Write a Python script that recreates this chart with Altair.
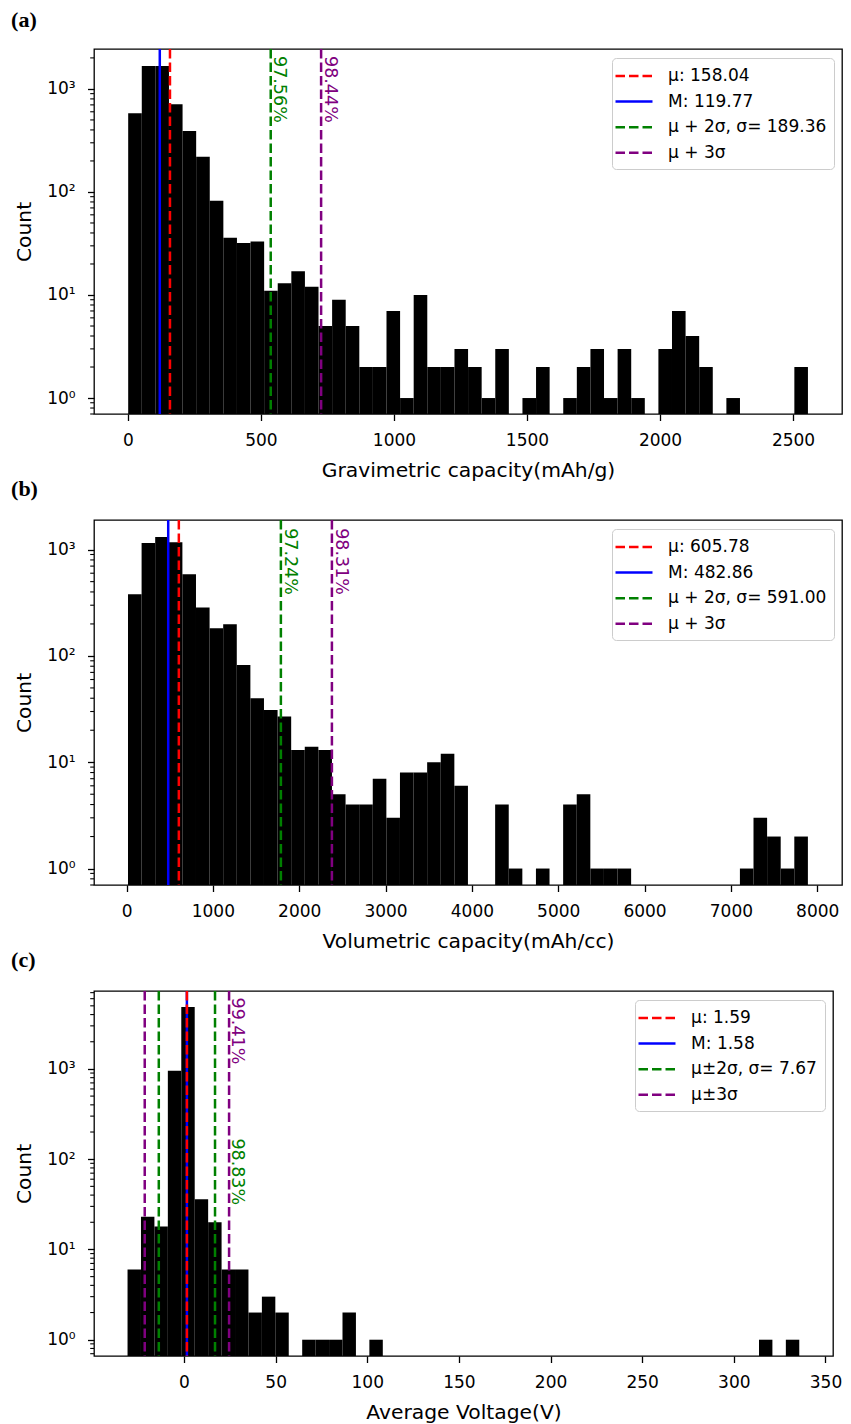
import altair as alt
import pandas as pd

FONT = "DejaVu Sans"
PANEL_FONT = "Liberation Serif"

# ---------------- (a) Gravimetric capacity ----------------
grav_counts = [580, 1670, 1670, 710, 391, 220, 82, 36, 32, 33,
               11, 13, 17, 12, 5, 9, 5, 2, 2, 7,
               1, 10, 2, 2, 3, 2, 1, 3, 0, 1,
               2, 0, 1, 2, 3, 1, 3, 1, 0, 3,
               7, 4, 2, 0, 1, 0, 0, 0, 0, 2]
grav_bin_start = 1.0
grav_bin_width = 51.1
grav_mean = 158.04
grav_median = 119.77
grav_sigma = 189.36
grav_pct = ["97.56%", "98.44%"]
grav_xticks = [0, 500, 1000, 1500, 2000, 2500]

# ---------------- (b) Volumetric capacity ----------------
vol_counts = [380, 1156, 1315, 1172, 586, 285, 182, 199, 82, 40,
              31, 27, 13, 14, 13, 5, 4, 4, 7, 3,
              8, 8, 10, 12, 6, 0, 0, 4, 1, 0,
              1, 0, 4, 5, 1, 1, 1, 0, 0, 0,
              0, 0, 0, 0, 0, 1, 3, 2, 1, 2]
vol_bin_start = 17.0
vol_bin_width = 157.5
vol_mean = 605.78
vol_median = 482.86
vol_sigma = 591.00
vol_pct = ["97.24%", "98.31%"]
vol_xticks = [0, 1000, 2000, 3000, 4000, 5000, 6000, 7000, 8000]

# ---------------- (c) Average voltage ----------------
volt_counts = [6, 23, 18, 955, 4860, 36, 20, 6, 6, 2,
               3, 2, 0, 1, 1, 1, 2, 0, 1, 0,
               0, 0, 0, 0, 0, 0, 0, 0, 0, 0,
               0, 0, 0, 0, 0, 0, 0, 0, 0, 0,
               0, 0, 0, 0, 0, 0, 0, 1, 0, 1]
volt_bin_start = -30.8
volt_bin_width = 7.33
volt_mean = 1.59
volt_median = 1.58
volt_sigma = 7.67
volt_pct = ["99.41%", "98.83%"]
volt_xticks = [0, 50, 100, 150, 200, 250, 300, 350]

LINE_COLORS = ["#ff0000", "#0000ff", "#008000", "#800080"]
LINE_DASHES = [[9.5, 4], [1, 0], [9.5, 4], [9.5, 4]]
SUP = "['⁰','¹','²','³','⁴']"


def build_panel(title, xtitle, counts, bin_start, bin_width, xdomain, ydomain,
                xticks, width, keys, rule_rows, text_rows, text_dx, title_offset):
    xscale = alt.Scale(domain=xdomain, nice=False, zero=False)
    yscale = alt.Scale(type="log", domain=ydomain, nice=False)

    bars_df = pd.DataFrame({
        "start": [bin_start + i * bin_width for i in range(len(counts))],
        "end": [bin_start + (i + 1) * bin_width for i in range(len(counts))],
        "count": counts,
    })
    bars_df = bars_df[bars_df["count"] > 0]

    major = [v for v in [1, 10, 100, 1000, 10000] if ydomain[0] <= v <= ydomain[1]]
    minor = [k * 10 ** e for e in range(-1, 4) for k in range(2, 10)]
    minor = [v for v in minor if ydomain[0] <= v <= ydomain[1]]

    bars = alt.Chart(bars_df).mark_bar(color="black").encode(
        x=alt.X("start:Q", scale=xscale,
                axis=alt.Axis(values=xticks, format="d", title=xtitle, labelFlush=False)),
        x2="end:Q",
        y=alt.Y("count:Q", scale=yscale,
                axis=alt.Axis(values=major, title="Count", labelFlush=False,
                              labelExpr="'10' + " + SUP + "[round(log(datum.value)/LN10)]")),
        y2=alt.Y2(datum=ydomain[0]),
    )

    minor_ticks = alt.Chart(pd.DataFrame({"v": minor})).mark_rule(
        color="black", strokeWidth=1.1).encode(
        y=alt.Y("v:Q", scale=yscale),
        x=alt.value(-3.8),
        x2=alt.value(0),
    )

    legend = alt.Legend(title=None, orient="top-right", offset=8.5, fillColor="white",
                        strokeColor="#cccccc", cornerRadius=4, padding=7.5,
                        labelFont=FONT, labelFontSize=17, labelColor="black",
                        symbolType="M-2,0H2", symbolSize=342, symbolStrokeWidth=2.5,
                        symbolOffset=4, labelOffset=23.6, rowPadding=6.6, labelLimit=400)
    rules_df = pd.DataFrame(rule_rows, columns=["key", "x"])
    rules = alt.Chart(rules_df).mark_rule(strokeWidth=2.5).encode(
        x=alt.X("x:Q", scale=xscale),
        color=alt.Color("key:N", scale=alt.Scale(domain=keys, range=LINE_COLORS), legend=legend),
        strokeDash=alt.StrokeDash("key:N", scale=alt.Scale(domain=keys, range=LINE_DASHES),
                                  legend=legend),
    )

    layers = [bars, minor_ticks, rules]
    for (tx, ty, label, color) in text_rows:
        layers.append(
            alt.Chart(pd.DataFrame({"x": [tx], "y": [ty], "t": [label]})).mark_text(
                angle=90, align="left", baseline="alphabetic", font=FONT,
                fontSize=17.5, color=color, xOffset=text_dx).encode(
                x=alt.X("x:Q", scale=xscale),
                y=alt.Y("y:Q", scale=yscale),
                text="t:N",
            )
        )

    return alt.layer(*layers).properties(
        width=width, height=365,
        title=alt.TitleParams(text=title, anchor="start", frame="bounds", font=PANEL_FONT,
                              fontWeight="bold", fontSize=22, color="black",
                              offset=title_offset, dx=-3.6),
    )


# ---- panel (a)
a_keys = [f"μ: {grav_mean:.2f}", f"M: {grav_median:.2f}",
          f"μ + 2σ, σ= {grav_sigma:.2f}", "μ + 3σ"]
a_rules = [(a_keys[1], grav_median), (a_keys[0], grav_mean),
           (a_keys[2], grav_mean + 2 * grav_sigma), (a_keys[3], grav_mean + 3 * grav_sigma)]
a_texts = [(grav_mean + 2 * grav_sigma, 2085, grav_pct[0], LINE_COLORS[2]),
           (grav_mean + 3 * grav_sigma, 2085, grav_pct[1], LINE_COLORS[3])]
panel_a = build_panel("(a)", "Gravimetric capacity(mAh/g)", grav_counts, grav_bin_start,
                      grav_bin_width, [-127.5, 2684], [0.70, 2440], grav_xticks, 748,
                      a_keys, a_rules, a_texts, 3.5, 16)

# ---- panel (b)
b_keys = [f"μ: {vol_mean:.2f}", f"M: {vol_median:.2f}",
          f"μ + 2σ, σ= {vol_sigma:.2f}", "μ + 3σ"]
b_rules = [(b_keys[1], vol_median), (b_keys[0], vol_mean),
           (b_keys[2], vol_mean + 2 * vol_sigma), (b_keys[3], vol_mean + 3 * vol_sigma)]
b_texts = [(vol_mean + 2 * vol_sigma, 1590, vol_pct[0], LINE_COLORS[2]),
           (vol_mean + 3 * vol_sigma, 1590, vol_pct[1], LINE_COLORS[3])]
panel_b = build_panel("(b)", "Volumetric capacity(mAh/cc)", vol_counts, vol_bin_start,
                      vol_bin_width, [-376.8, 8287], [0.70, 1900], vol_xticks, 748,
                      b_keys, b_rules, b_texts, 4.5, 18)

# ---- panel (c)
c_keys = [f"μ: {volt_mean:.2f}", f"M: {volt_median:.2f}",
          f"μ±2σ, σ= {volt_sigma:.2f}", "μ±3σ"]
c_rules = [(c_keys[1], volt_median), (c_keys[0], volt_mean),
           (c_keys[2], volt_mean - 2 * volt_sigma), (c_keys[2], volt_mean + 2 * volt_sigma),
           (c_keys[3], volt_mean - 3 * volt_sigma), (c_keys[3], volt_mean + 3 * volt_sigma)]
c_texts = [(volt_mean + 3 * volt_sigma, 6170, volt_pct[0], LINE_COLORS[3]),
           (volt_mean + 3 * volt_sigma, 170, volt_pct[1], LINE_COLORS[2])]
panel_c = build_panel("(c)", "Average Voltage(V)", volt_counts, volt_bin_start,
                      volt_bin_width, [-49.1, 354.1], [0.66, 7300], volt_xticks, 739,
                      c_keys, c_rules, c_texts, 2.5, 18)

chart = alt.vconcat(panel_a, panel_b, panel_c, spacing=-5).resolve_scale(
    x="independent", y="independent", color="independent", strokeDash="independent"
).resolve_legend(color="independent", strokeDash="independent").properties(
    padding={"left": 2, "top": 0, "right": 0, "bottom": 0}
).configure_view(
    stroke="black", strokeWidth=1.3
).configure_axis(
    domain=False, grid=False, tickColor="black", tickWidth=1.3, tickSize=6.5,
    labelColor="black", labelFont=FONT, labelFontSize=17,
    titleFont=FONT, titleFontSize=20.3, titleFontWeight="normal", titleColor="black",
).configure_axisX(labelPadding=12, titlePadding=12).configure_axisY(
    labelPadding=12.4, titlePadding=12
)

chart.save("out.html", embed_options={"renderer": "svg", "actions": False})
